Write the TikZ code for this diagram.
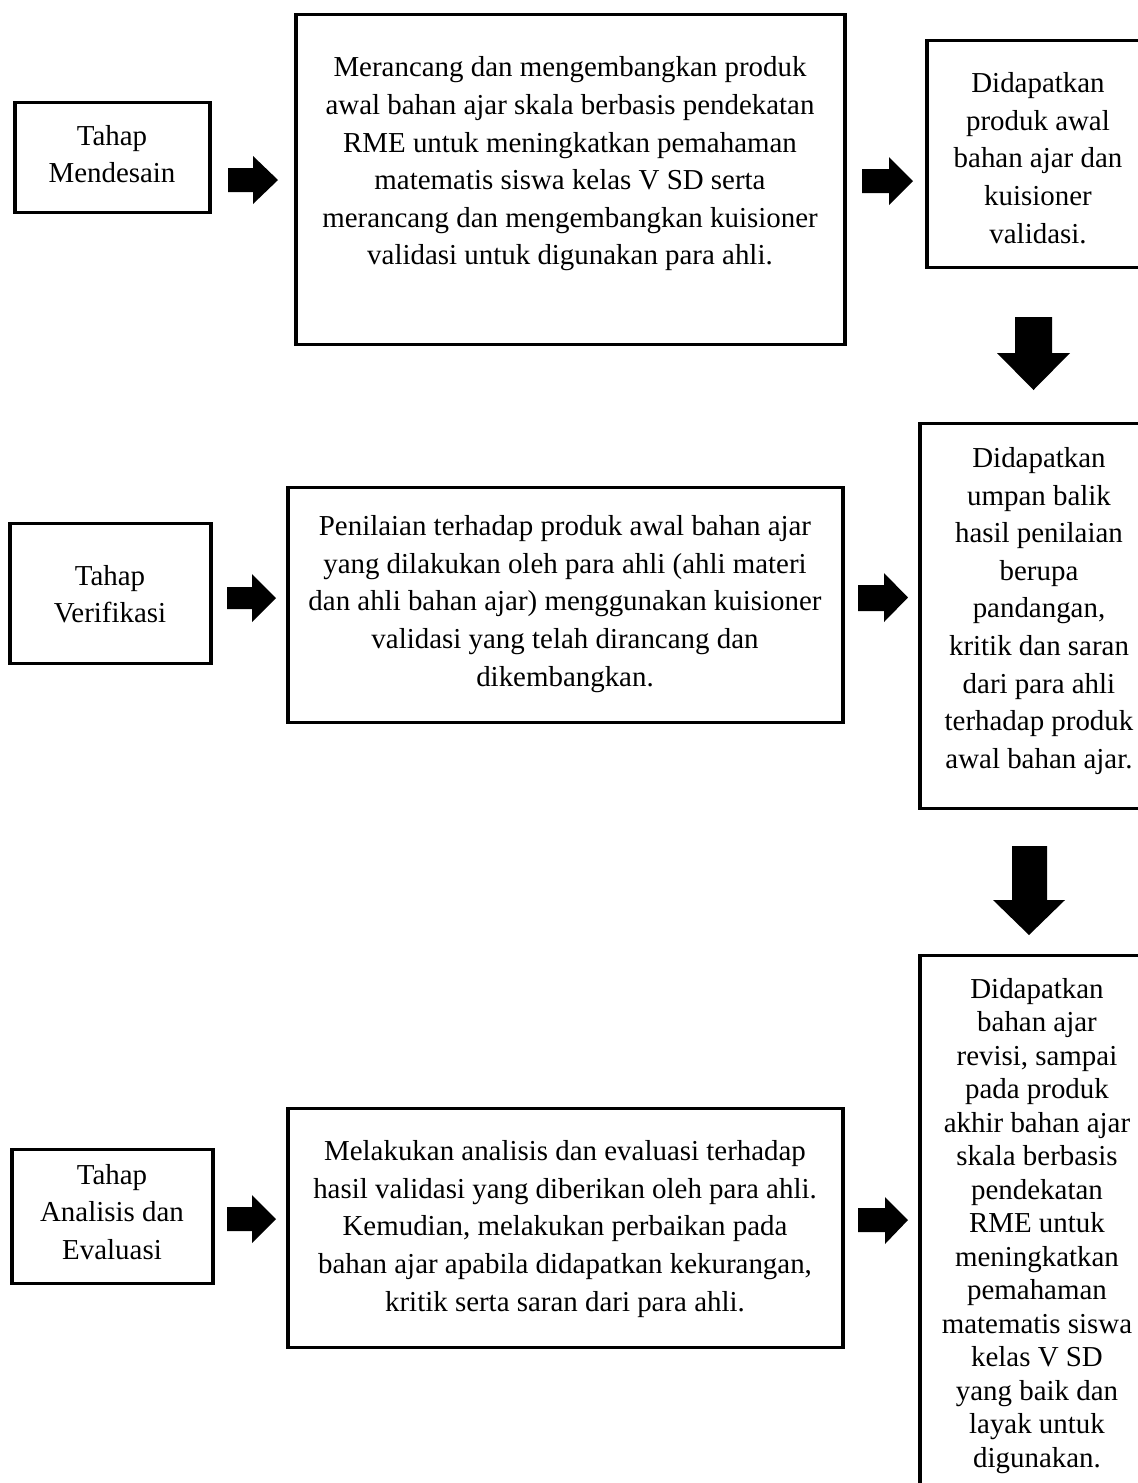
\documentclass[tikz,border=0pt]{standalone}
\usepackage{fontspec}
\setmainfont{Liberation Serif}
\usetikzlibrary{fit}
\begin{document}
\begin{tikzpicture}[x=0.415pt,y=-0.415pt,
  box/.style={draw=black,line width=1.25pt,inner sep=0pt,fill=none},
  txt/.style={align=center,inner sep=0pt,font=\fontsize{12pt}{15.6pt}\selectfont},
  txttight/.style={align=center,inner sep=0pt,font=\fontsize{12pt}{13.9pt}\selectfont},
  blockarrow/.style={fill=black}]
\useasboundingbox (0,0) rectangle (1138,1483);
\clip (0,0) rectangle (1138,1483);

% boxes
\node[box,fit={(15,102) (210,212)}] (A) {};
\node[box,fit={(296,14) (845,344)}] (B) {};
\node[box,fit={(927,40) (1150,267)}] (C) {};
\node[box,fit={(10,523) (211,663)}] (D) {};
\node[box,fit={(288,487) (843,722)}] (E) {};
\node[box,fit={(920,423) (1158,808)}] (F) {};
\node[box,fit={(12,1149) (213,1283)}] (G) {};
\node[box,fit={(288,1108) (843,1347)}] (H) {};
\node[box,fit={(920,955) (1156,1520)}] (I) {};

% texts
\node[txt] (At) at (112,154) {Tahap\\Mendesain};
\node[txt] (Bt) at (570,164) {Merancang dan mengembangkan produk\\awal bahan ajar skala berbasis pendekatan\\RME untuk meningkatkan pemahaman\\matematis siswa kelas V SD serta\\merancang dan mengembangkan kuisioner\\validasi untuk digunakan para ahli.};
\node[txt] (Ct) at (1038,158) {Didapatkan\\produk awal\\bahan ajar dan\\kuisioner\\validasi.};
\node[txt] (Dt) at (110,594) {Tahap\\Verifikasi};
\node[txt] (Et) at (565,604) {Penilaian terhadap produk awal bahan ajar\\yang dilakukan oleh para ahli (ahli materi\\dan ahli bahan ajar) menggunakan kuisioner\\validasi yang telah dirancang dan\\dikembangkan.};
\node[txt] (Ft) at (1039,611) {Didapatkan\\umpan balik\\hasil penilaian\\berupa\\pandangan,\\kritik dan saran\\dari para ahli\\terhadap produk\\awal bahan ajar.};
\node[txt] (Gt) at (112,1212) {Tahap\\Analisis dan\\Evaluasi};
\node[txt] (Ht) at (565,1229) {Melakukan analisis dan evaluasi terhadap\\hasil validasi yang diberikan oleh para ahli.\\Kemudian, melakukan perbaikan pada\\bahan ajar apabila didapatkan kekurangan,\\kritik serta saran dari para ahli.};
\node[txttight] (It) at (1037,1226) {Didapatkan\\bahan ajar\\revisi, sampai\\pada produk\\akhir bahan ajar\\skala berbasis\\pendekatan\\RME untuk\\meningkatkan\\pemahaman\\matematis siswa\\kelas V SD\\yang baik dan\\layak untuk\\digunakan.};

% block arrows, row 1
\fill[blockarrow] (228,168) -- (253,168) -- (253,156) -- (278,180) -- (253,204) -- (253,192) -- (228,192) -- cycle;
\fill[blockarrow] (862,169) -- (889,169) -- (889,157) -- (913,181) -- (889,205) -- (889,193) -- (862,193) -- cycle;
\fill[blockarrow] (1015,317) -- (1052,317) -- (1052,353) -- (1070,353) -- (1033.5,390) -- (997,353) -- (1015,353) -- cycle;
% row 2
\fill[blockarrow] (227,587) -- (252,587) -- (252,574) -- (276,598) -- (252,622) -- (252,609) -- (227,609) -- cycle;
\fill[blockarrow] (858,585) -- (884,585) -- (884,573) -- (908,597.5) -- (884,622) -- (884,611) -- (858,611) -- cycle;
\fill[blockarrow] (1012,846) -- (1047,846) -- (1047,900) -- (1065,900) -- (1029,935) -- (993,900) -- (1012,900) -- cycle;
% row 3
\fill[blockarrow] (227,1207) -- (252,1207) -- (252,1195) -- (276,1219) -- (252,1243) -- (252,1231) -- (227,1231) -- cycle;
\fill[blockarrow] (858,1208) -- (885,1208) -- (885,1197) -- (908,1220) -- (885,1244) -- (885,1232) -- (858,1232) -- cycle;
\end{tikzpicture}
\end{document}
